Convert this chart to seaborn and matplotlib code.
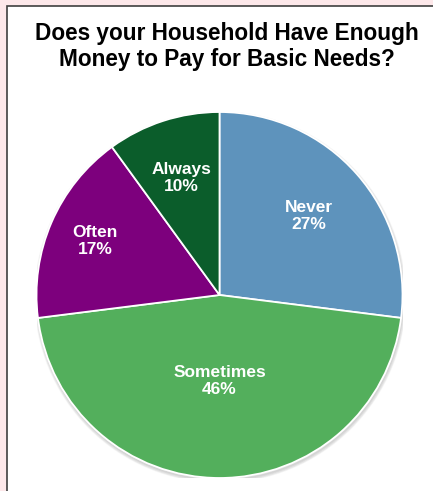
"""Pie chart: does your household have enough money to pay for basic needs."""
import numpy as np
import matplotlib
matplotlib.use("Agg")
import matplotlib.pyplot as plt
from matplotlib.patches import Rectangle, Circle
import seaborn as sns

labels = ["Never", "Sometimes", "Often", "Always"]
shares = [27, 46, 17, 10]
colors = ["#5E93BC", "#53AF5C", "#7D007D", "#0B5D2B"]
label_dist = [0.65, 0.47, 0.74, 0.67]

sns.set_theme(style="white")
plt.rcParams["font.family"] = ["Liberation Sans", "DejaVu Sans"]

W, H = 433, 491
fig = plt.figure(figsize=(W / 100, H / 100), dpi=100, facecolor="#FDE8EA")

# white panel with dark border (behind the axes)
fig.patches.append(Rectangle((7.5 / W, -0.1), 1.2, (H - 5.5) / H + 0.1,
                             transform=fig.transFigure, facecolor="white",
                             edgecolor="#3F3F3F", linewidth=1.2, zorder=-5))

fig.text(227 / W, 1 - 46.5 / H, "Does your Household Have Enough\nMoney to Pay for Basic Needs?",
         ha="center", va="center", fontsize=16.3, fontweight="bold", color="black",
         linespacing=1.15)

cx, cy, r = 219.5, 295, 183
ax = fig.add_axes([(cx - r) / W, (H - cy - r) / H, 2 * r / W, 2 * r / H])
ax.patch.set_alpha(0)

# soft shadow
for k, a in enumerate([0.08, 0.10, 0.12]):
    ax.add_patch(Circle((0.004, -0.012), 1.0 + 0.006 * (2 - k), color="gray", alpha=a, zorder=0))

wedges, _ = ax.pie(shares, colors=colors, startangle=90, counterclock=False,
                   wedgeprops=dict(edgecolor="white", linewidth=1.3))
for w in wedges:
    w.set_zorder(2)

for w, lab, s, d in zip(wedges, labels, shares, label_dist):
    mid = np.deg2rad((w.theta1 + w.theta2) / 2)
    ax.text(d * np.cos(mid), d * np.sin(mid), f"{lab}\n{s}%", ha="center", va="center",
            color="white", fontsize=12.5, fontweight="bold", linespacing=1.15, zorder=3)

ax.set_xlim(-1, 1)
ax.set_ylim(-1, 1)
ax.set_aspect("equal")
ax.axis("off")

fig.savefig("out.png", dpi=100, facecolor=fig.get_facecolor())
